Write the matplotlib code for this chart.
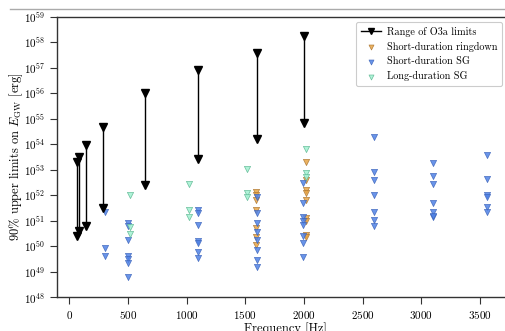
import numpy as np
import matplotlib
matplotlib.use("Agg")
import matplotlib.pyplot as plt
from matplotlib.lines import Line2D

plt.rcParams['font.family'] = ['cmr10', 'DejaVu Serif']
plt.rcParams['mathtext.fontset'] = 'cm'
plt.rcParams['axes.formatter.use_mathtext'] = True
plt.rcParams['axes.unicode_minus'] = False

# O3a limit ranges: frequency, upper log10 E, lower log10 E
range_freq = [68, 85, 142, 290, 645, 1100, 1600, 2000]
range_top = [53.3, 53.5, 53.97, 54.67, 56.0, 56.9, 57.56, 58.24]
range_bot = [50.4, 50.6, 50.78, 51.51, 52.4, 53.41, 54.19, 54.84]

# short-duration ringdown (log10 E)
rd_freq = [1590] * 7 + [2018] * 9
rd_loge = [52.14, 52.0, 51.81, 51.42, 50.7, 50.35, 50.05,
           53.31, 52.6, 52.2, 52.07, 51.81, 51.1, 50.99, 50.44, 50.35]

# short-duration SG
sg_freq = ([300] * 3 + [500] * 7 + [1100] * 7 + [1603] * 8 + [1990] * 8
           + [2600] * 7 + [3100] * 7 + [3560] * 6)
sg_loge = [51.33, 49.92, 49.62,
           50.9, 50.79, 50.24, 49.62, 49.51, 49.33, 48.8,
           51.42, 51.29, 50.83, 50.2, 50.11, 49.76, 49.56,
           51.94, 51.29, 50.9, 50.57, 50.24, 49.85, 49.46, 49.2,
           52.47, 51.68, 51.16, 50.99, 50.83, 50.4, 50.11, 49.59,
           54.29, 52.92, 52.6, 52.01, 51.35, 51.03, 50.8,
           53.27, 52.76, 52.44, 51.71, 51.35, 51.13, 51.2,
           53.58, 52.62, 52.01, 51.94, 51.55, 51.35]

# long-duration SG
lsg_freq = [518] * 3 + [1020] * 3 + [1517] * 3 + [2018] * 3
lsg_loge = [52.0, 50.76, 50.48,
            52.44, 51.42, 51.16,
            53.03, 52.07, 51.94,
            53.81, 52.88, 52.73]

fig = plt.figure(figsize=(5.05, 3.31), dpi=100)
W, H = 505, 331
ax = fig.add_axes([57 / W, 1 - 297.3 / H, (514.5 - 57) / W, (297.3 - 16.7) / H])

for i, (f, t, b) in enumerate(zip(range_freq, range_top, range_bot)):
    ax.plot([f, f], [10 ** t, 10 ** b], color='black', lw=1.0, zorder=3)
    ax.plot([f, f], [10 ** t, 10 ** b], 'v', color='black', ms=5.8, zorder=4)

ax.scatter(rd_freq, 10 ** np.array(rd_loge), marker='v', s=20,
           facecolor='#E8A545', edgecolor='#A8702A', linewidth=0.5, alpha=0.85,
           zorder=2, label='Short-duration ringdown')
ax.scatter(sg_freq, 10 ** np.array(sg_loge), marker='v', s=20,
           facecolor='#4F82E6', edgecolor='#3A62B8', linewidth=0.5, alpha=0.85,
           zorder=2, label='Short-duration SG')
ax.scatter(lsg_freq, 10 ** np.array(lsg_loge), marker='v', s=20,
           facecolor='#A6F2D4', edgecolor='#5FB893', linewidth=0.5, alpha=0.9,
           zorder=2, label='Long-duration SG')

ax.set_yscale('log')
ax.set_ylim(1e48, 1e59)
ax.set_yticks([10.0 ** k for k in range(48, 60)])
ax.yaxis.set_minor_locator(matplotlib.ticker.NullLocator())
ax.set_xlim(-105, 3795)
ax.set_xticks([0, 500, 1000, 1500, 2000, 2500, 3000, 3500])

ax.tick_params(direction='out', length=5, width=0.8, labelsize=8, colors='#333333',
               labelcolor='black')
ax.spines['right'].set_visible(False)
for s in ['left', 'bottom', 'top']:
    ax.spines[s].set_linewidth(1.0)
    ax.spines[s].set_color('#333333')

ax.set_ylabel(r'90% upper limits on $E_{\rm GW}$ [erg]', fontsize=9)
ax.yaxis.set_label_coords((25.5 - 57) / 457.5, 0.5)
ax.set_xlabel('Frequency [Hz]', fontsize=9, labelpad=1)

handles, labels = ax.get_legend_handles_labels()
handles = [Line2D([], [], color='black', lw=1.0, marker='v', ms=5)] + handles
labels = ['Range of O3a limits'] + labels
leg = ax.legend(handles, labels, loc='upper right', fontsize=7.3,
                bbox_to_anchor=((502 - 57) / (514.5 - 57), 1 - (22 - 16.7) / 280.6),
                borderaxespad=0, frameon=True, fancybox=True, framealpha=1,
                edgecolor='#CCCCCC', handlelength=2.0, handletextpad=0.6,
                borderpad=0.45, labelspacing=0.5, scatterpoints=1, markerscale=0.8)
leg.get_frame().set_linewidth(0.8)

fig.add_artist(Line2D([10 / W, 1], [1 - 9.3 / H, 1 - 9.3 / H], color='#AAAAAA', lw=1.0,
                      transform=fig.transFigure))

fig.savefig('out.png', dpi=100)
